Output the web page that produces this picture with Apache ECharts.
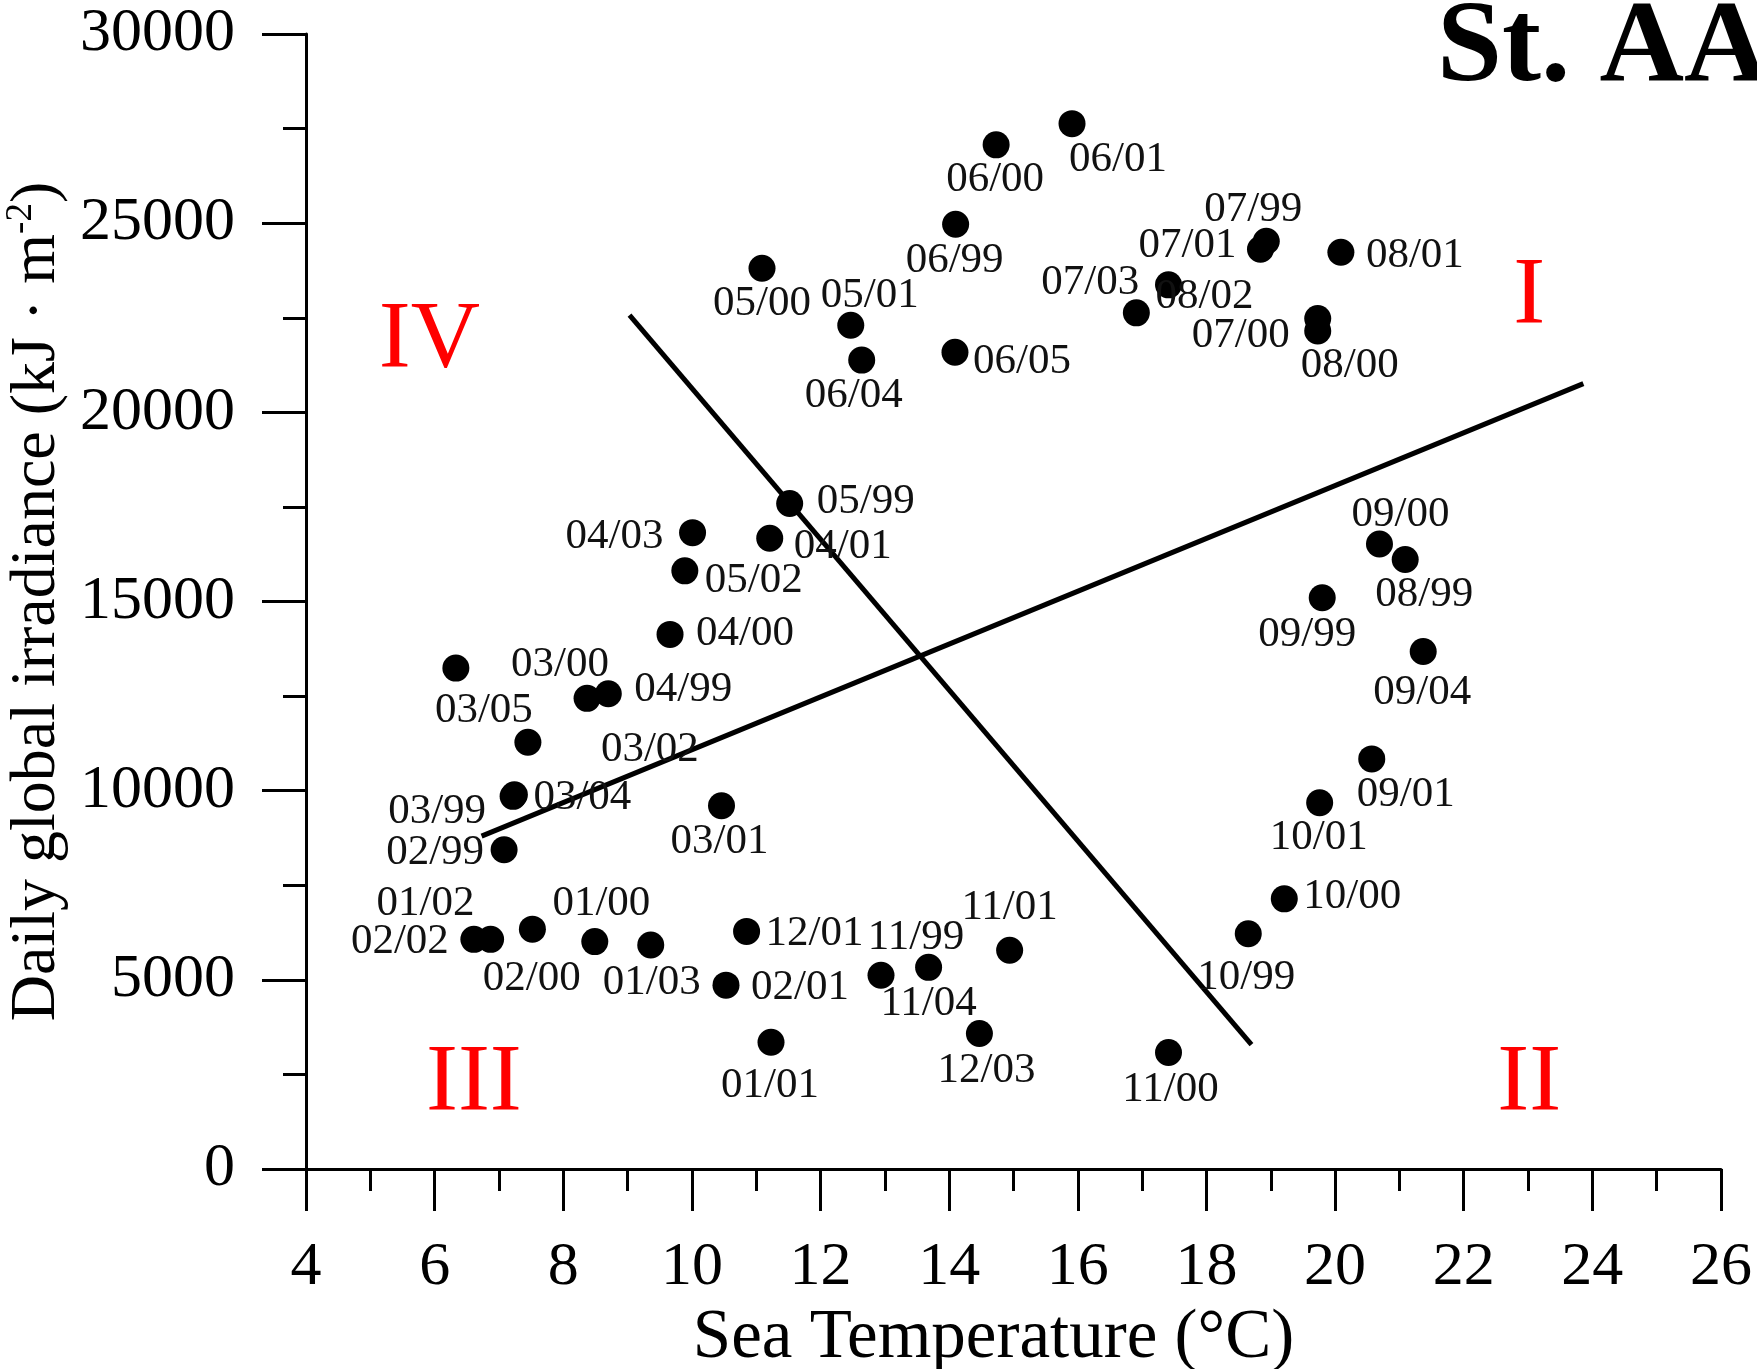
<!DOCTYPE html>
<html>
<head>
<meta charset="utf-8">
<script src="https://cdn.jsdelivr.net/npm/echarts@6/dist/echarts.min.js"></script>
<style>
  html, body { margin: 0; padding: 0; background: #fff; }
  #chart { width: 1757px; height: 1369px; }
</style>
</head>
<body>
<div id="chart"></div>
<script>
// month/year of each observation
var months = ['06/01','06/00','06/99','05/00','05/01','06/04','06/05','07/03','08/02','07/01','07/99','08/01','07/00','08/00',
    '05/99','04/03','04/01','05/02','04/00','03/05','03/00','04/99','03/02','03/04','03/99','02/99','03/01',
    '01/02','02/02','01/00','02/00','01/03','02/01','12/01','01/01','11/99','11/04','11/01','12/03','11/00',
    '10/99','10/00','10/01','09/01','09/04','09/99','09/00','08/99'];
// sea temperature (°C)
var temps = [15.91,14.73,14.10,11.09,12.47,12.64,14.09,16.91,17.41,18.84,18.93,20.09,19.73,19.73,
    11.52,10.01,11.21,9.89,9.66,6.33,8.37,8.70,7.45,7.24,7.22,7.08,10.46,
    6.87,6.61,7.52,8.49,9.36,10.53,10.85,11.23,12.94,13.68,14.94,14.47,17.41,
    18.65,19.21,19.76,20.57,21.37,19.80,20.69,21.09];
// daily global irradiance (kJ m-2)
var irradiance = [27630,27070,24970,23810,22300,21380,21590,22630,23370,24310,24520,24230,22480,22150,
    17590,16820,16670,15810,14130,13240,12440,12560,11280,9890,9850,8440,9600,
    6070,6070,6340,6010,5920,4860,6280,3350,5120,5330,5780,3580,3080,
    6220,7140,9680,10840,13680,15100,16520,16110];

// the two dividing lines (end points)
var lineAx = [6.73, 23.86], lineAy = [8800, 20760];
var lineBx = [9.03, 18.70], lineBy = [22570, 3290];

// quadrant names
var regionNames = ['I', 'II', 'III', 'IV'];
var regionX = [23.02, 23.02, 6.61, 5.92];
var regionY = [23040, 2220, 2220, 21860];

// label offsets in px (where each date label sits around its dot)
var labelOffsets = [[46,36],[-1,35],[-1,36],[0,36],[19,-30],[-8,36],[67,10],[-46,-30],[36,12],[-73,-4],[-13,-32],[74,3],[-77,17],[32,35],
    [76,-2],[-78,4],[73,8],[69,10],[75,-1],[28,43],[-27,-34],[75,-4],[122,7],[68,3],[-76,15],[-69,3],[-2,36],
    [-65,-36],[-74,2],[69,-25],[-63,37],[1,38],[74,3],[68,2],[-1,43],[35,-38],[0,36],[0,-43],[7,37],[2,37],
    [-2,44],[68,-2],[-1,35],[34,36],[-1,41],[-15,37],[21,-29],[19,35]];

var serif = 'Liberation Serif';

var points = [];
for (var i = 0; i < months.length; i++) {
    points.push({value: [temps[i], irradiance[i]], name: months[i]});
}
var regions = [];
for (var j = 0; j < regionNames.length; j++) {
    regions.push({value: [regionX[j], regionY[j]], name: regionNames[j]});
}

var myChart = echarts.init(document.getElementById('chart'));
var option = {
    backgroundColor: '#fff',
    animation: false,
    title: {
        text: 'St. AA1',
        left: 1437,
        top: -9,
        padding: 0,
        textStyle: {fontFamily: serif, fontSize: 117, fontWeight: 'bold', color: '#000'}
    },
    grid: {left: 306, right: 36, top: 34, bottom: 200, outerBoundsMode: 'none'},
    xAxis: {
        type: 'value',
        min: 4, max: 26, interval: 2,
        name: 'Sea Temperature (°C)',
        nameLocation: 'middle',
        nameGap: 122,
        nameTextStyle: {fontFamily: serif, fontSize: 69, color: '#000', padding: [0, 40, 0, 0]},
        axisLine: {onZero: false, lineStyle: {color: '#000', width: 3}},
        axisTick: {length: 42, lineStyle: {color: '#000', width: 3}},
        minorTick: {show: true, splitNumber: 2, length: 22, lineStyle: {color: '#000', width: 3}},
        axisLabel: {fontFamily: serif, fontSize: 62, color: '#000', margin: 68, showMinLabel: true, showMaxLabel: true},
        splitLine: {show: false}
    },
    yAxis: {
        type: 'value',
        min: 0, max: 30000, interval: 5000,
        name: '{a|Daily global irradiance (kJ · m}{s|-2}{a|)}',
        nameLocation: 'middle',
        nameRotate: 90,
        nameGap: 216,
        nameTextStyle: {
            rich: {
                a: {fontFamily: serif, fontSize: 64, color: '#000', lineHeight: 68},
                s: {fontFamily: serif, fontSize: 37, color: '#000', lineHeight: 38, verticalAlign: 'top'}
            }
        },
        axisLine: {lineStyle: {color: '#000', width: 3}},
        axisTick: {length: 44, lineStyle: {color: '#000', width: 3}},
        minorTick: {show: true, splitNumber: 2, length: 23, lineStyle: {color: '#000', width: 3}},
        axisLabel: {
            fontFamily: serif, fontSize: 62, color: '#000', margin: 71,
            formatter: function (v) { return String(v); }
        },
        splitLine: {show: false}
    },
    series: [
        {
            type: 'line',
            data: [[lineAx[0], lineAy[0]], [lineAx[1], lineAy[1]]],
            showSymbol: false,
            symbol: 'none',
            lineStyle: {color: '#000', width: 5},
            z: 3
        },
        {
            type: 'line',
            data: [[lineBx[0], lineBy[0]], [lineBx[1], lineBy[1]]],
            showSymbol: false,
            symbol: 'none',
            lineStyle: {color: '#000', width: 5},
            z: 3
        },
        {
            type: 'scatter',
            data: points,
            symbolSize: 27,
            itemStyle: {color: '#000', opacity: 1},
            label: {
                show: true,
                position: 'inside',
                formatter: '{b}',
                fontFamily: serif,
                fontSize: 43,
                color: '#111'
            },
            labelLayout: function (params) {
                var o = labelOffsets[params.dataIndex];
                return {dx: o[0], dy: o[1], hideOverlap: false};
            },
            z: 4
        },
        {
            type: 'scatter',
            data: regions,
            symbolSize: 0,
            silent: true,
            itemStyle: {opacity: 1},
            label: {
                show: true,
                position: 'inside',
                formatter: '{b}',
                fontFamily: serif,
                fontSize: 96,
                color: '#ff0000'
            },
            z: 5
        }
    ]
};
myChart.setOption(option);
</script>
</body>
</html>
